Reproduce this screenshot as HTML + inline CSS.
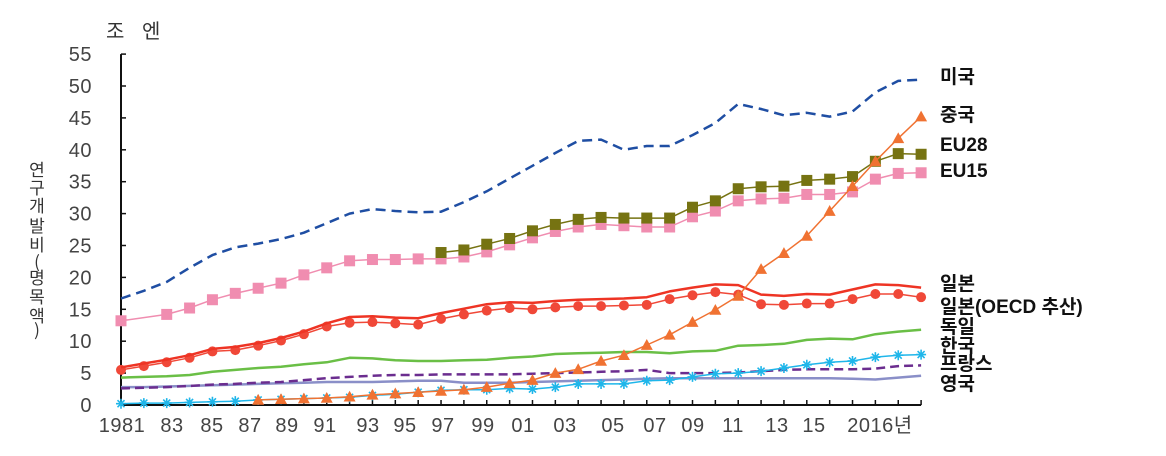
<!DOCTYPE html>
<html><head><meta charset="utf-8"><style>
body{margin:0;background:#fff;width:1166px;height:451px;overflow:hidden}
svg{font-family:"Liberation Sans","Noto Sans CJK KR",sans-serif}
</style></head><body>
<svg id="chart" width="1166" height="451" viewBox="0 0 1166 451" xmlns="http://www.w3.org/2000/svg">
<text x="106" y="38" font-size="20" fill="#333" font-family="Liberation Sans, Noto Sans CJK KR, sans-serif" letter-spacing="6">조 엔</text>
<text font-size="17" fill="#333" font-family="Noto Sans CJK KR, sans-serif" text-anchor="middle">
<tspan x="37" y="176">연</tspan><tspan x="37" y="194">구</tspan><tspan x="37" y="212">개</tspan><tspan x="37" y="232">발</tspan><tspan x="37" y="251">비</tspan><tspan x="37" y="268">(</tspan><tspan x="37" y="284">명</tspan><tspan x="37" y="303">목</tspan><tspan x="37" y="322">액</tspan><tspan x="37" y="336">)</tspan>
</text>
<g id="axes"></g>
<g id="series"></g>
<g id="labels"></g>
</svg>
<script>
const years = [];
for (let y = 1981; y <= 2016; y++) years.push(y);
const yTicks = [0,5,10,15,20,25,30,35,40,45,50,55];
const xTickLabels = ["1981","83","85","87","89","91","93","95","97","99","01","03","05","07","09","11","13","15","2016년"];
const xLabelPos = [122,172,212,250,287,325,368,405,443,483,523,565,613,655,693,733,777,814,880];

const usa = [16.7,17.9,19.3,21.5,23.5,24.7,25.3,26.0,27.0,28.5,30.0,30.7,30.4,30.2,30.3,31.8,33.5,35.5,37.5,39.5,41.4,41.6,40.0,40.6,40.6,42.3,44.2,47.2,46.4,45.4,45.8,45.2,46.0,49.0,50.8,51.0];
const china = [null,null,null,null,null,null,0.8,0.9,1.0,1.1,1.3,1.6,1.8,2.0,2.2,2.4,2.8,3.4,3.9,5.0,5.6,6.9,7.8,9.4,11.0,13.0,14.9,17.1,21.3,23.8,26.5,30.4,34.3,38.2,41.8,45.2];
const eu28 = [null,null,null,null,null,null,null,null,null,null,null,null,null,null,23.9,24.3,25.2,26.1,27.3,28.3,29.1,29.4,29.3,29.3,29.3,31.0,32.0,33.9,34.2,34.3,35.2,35.4,35.8,38.2,39.4,39.3];
const eu15 = [13.2,null,14.2,15.2,16.5,17.5,18.3,19.1,20.4,21.5,22.6,22.8,22.8,22.9,22.9,23.2,24.0,25.1,26.2,27.2,27.9,28.3,28.1,27.9,27.9,29.5,30.4,32.0,32.3,32.4,33.0,33.0,33.4,35.4,36.3,36.4];
const japan = [5.9,6.5,7.1,7.8,8.8,9.1,9.7,10.5,11.5,12.8,13.8,13.9,13.7,13.6,14.4,15.1,15.8,16.1,16.0,16.3,16.5,16.6,16.7,16.9,17.8,18.4,18.9,18.8,17.3,17.1,17.4,17.3,18.1,18.9,18.8,18.4];
const japanOecd = [5.5,6.1,6.7,7.4,8.4,8.6,9.3,10.1,11.1,12.3,12.9,13.0,12.8,12.6,13.5,14.2,14.8,15.2,15.0,15.3,15.5,15.5,15.6,15.7,16.6,17.2,17.7,17.3,15.8,15.7,15.9,15.9,16.6,17.4,17.4,16.9];
const germany = [4.3,4.4,4.5,4.7,5.2,5.5,5.8,6.0,6.4,6.7,7.4,7.3,7.0,6.9,6.9,7.0,7.1,7.4,7.6,8.0,8.1,8.2,8.3,8.3,8.1,8.4,8.5,9.3,9.4,9.6,10.2,10.4,10.3,11.1,11.5,11.8];
const korea = [0.2,0.3,0.3,0.4,0.5,0.6,0.8,0.9,1.0,1.1,1.2,1.5,1.7,2.0,2.3,2.4,2.4,2.6,2.5,2.8,3.3,3.3,3.3,3.8,3.9,4.4,4.9,5.0,5.3,5.8,6.3,6.7,6.9,7.5,7.8,7.9];
const france = [2.6,2.7,2.8,3.0,3.2,3.3,3.5,3.6,3.9,4.2,4.4,4.6,4.7,4.7,4.8,4.8,4.8,4.8,4.9,5.0,5.1,5.2,5.3,5.5,5.0,5.0,5.0,5.1,5.3,5.5,5.6,5.6,5.6,5.7,6.1,6.2];
const uk = [2.8,2.8,2.9,3.0,3.1,3.2,3.3,3.4,3.5,3.6,3.6,3.6,3.7,3.8,3.8,3.5,3.5,3.5,3.6,3.7,3.8,3.9,4.0,4.1,4.2,4.2,4.2,4.2,4.2,4.2,4.2,4.2,4.1,4.0,4.3,4.6];

const NS = "http://www.w3.org/2000/svg";
const X0 = 121, XSTEP = 22.86, Y0 = 405, YSCALE = 6.38;
function xs(i){ return X0 + i * XSTEP; }
function ys(v){ return Y0 - v * YSCALE; }
function mk(tag, attrs, parent){
  const e = document.createElementNS(NS, tag);
  for (const k in attrs) e.setAttribute(k, attrs[k]);
  parent.appendChild(e);
  return e;
}
const axes = document.getElementById("axes");
const seriesG = document.getElementById("series");
const labelsG = document.getElementById("labels");

const yAxis = mk("line",{x1:X0,y1:ys(55),x2:X0,y2:Y0,stroke:"#111","stroke-width":2},axes);


const xAxis = mk("line",{x1:X0,y1:Y0,x2:xs(years.length-1),y2:Y0,stroke:"#111","stroke-width":2},axes);


yTicks.forEach(v=>{
  const t = mk("line",{x1:X0,y1:ys(v),x2:X0+5,y2:ys(v),stroke:"#111","stroke-width":1.5},axes);
  
  
  const l = mk("text",{x:92,y:ys(v)+7,"text-anchor":"end","font-size":20,fill:"#444","letter-spacing":"0.5"},axes);
  
  
  l.textContent = v;
});
years.forEach((yr,i)=>{
  const t = mk("line",{x1:xs(i),y1:Y0,x2:xs(i),y2:Y0-5,stroke:"#111","stroke-width":1.5},axes);
  
  
});
xTickLabels.forEach((s,i)=>{
  const l = mk("text",{x:xLabelPos[i],y:432,"text-anchor":"middle","font-size":20,fill:"#444","letter-spacing":"0.5"},axes);
  
  
  l.textContent = s;
});

function pathFor(arr){
  let d = "", started = false;
  arr.forEach((v,i)=>{
    if (v === null) return;
    d += (started ? "L" : "M") + xs(i).toFixed(1) + "," + ys(v).toFixed(1);
    started = true;
  });
  return d;
}
function drawSeries(name, arr, color, width, dash, marker, msize){
  const g = mk("g",{},seriesG);
  
  
  const p = mk("path",{d:pathFor(arr),fill:"none",stroke:color,"stroke-width":width,"stroke-dasharray":dash||"none","stroke-linejoin":"round"},g);
  
  
  arr.forEach((v,i)=>{
    if (v === null || !marker) return;
    const cx = xs(i), cy = ys(v);
    let m;
    if (marker === "square") m = mk("rect",{x:cx-msize,y:cy-msize,width:msize*2,height:msize*2,fill:color},g);
    else if (marker === "circle") m = mk("circle",{cx:cx,cy:cy,r:msize,fill:color},g);
    else if (marker === "triangle") m = mk("path",{d:`M${cx},${cy-msize}L${cx+msize},${cy+msize*0.8}L${cx-msize},${cy+msize*0.8}Z`,fill:color},g);
    else if (marker === "star") m = mk("path",{d:`M${cx-msize},${cy}H${cx+msize}M${cx-msize*0.7},${cy-msize*0.7}L${cx+msize*0.7},${cy+msize*0.7}M${cx-msize*0.7},${cy+msize*0.7}L${cx+msize*0.7},${cy-msize*0.7}M${cx},${cy-msize}V${cy+msize}`,stroke:color,"stroke-width":1.6,fill:"none"},g);
    
    
  });
}
drawSeries("uk-series", uk, "#8a8fc8", 2.5, null, null, 0);
drawSeries("france-series", france, "#6b2d8f", 2.5, "9,5", null, 0);
drawSeries("korea-series", korea, "#1fb6ea", 1.5, null, "star", 5);
drawSeries("germany-series", germany, "#6abf46", 2.5, null, null, 0);
drawSeries("japan-oecd-series", japanOecd, "#f04838", 1.5, null, "circle", 5);
drawSeries("japan-series", japan, "#ee3424", 2.5, null, null, 0);
drawSeries("eu15-series", eu15, "#f08db0", 1.5, null, "square", 5.5);
drawSeries("eu28-series", eu28, "#767312", 1.5, null, "square", 5.5);
drawSeries("china-series", china, "#f07232", 1.5, null, "triangle", 6);
drawSeries("usa-series", usa, "#1f4ea3", 2.5, "10,6", null, 0);

const legendNames = ["미국","중국","EU28","EU15","일본","일본(OECD 추산)","독일","한국","프랑스","영국"];
const legendY = [83,121,151,177,290,313,333,352,370,390];
const legendIds = ["usa","china","eu28","eu15","japan","japan-oecd","germany","korea","france","uk"];
legendNames.forEach((s,i)=>{
  const l = mk("text",{x:940,y:legendY[i],"font-size":19,"font-weight":"bold",fill:"#111"},labelsG);
  
  
  l.textContent = s;
});
</script>
</body></html>
